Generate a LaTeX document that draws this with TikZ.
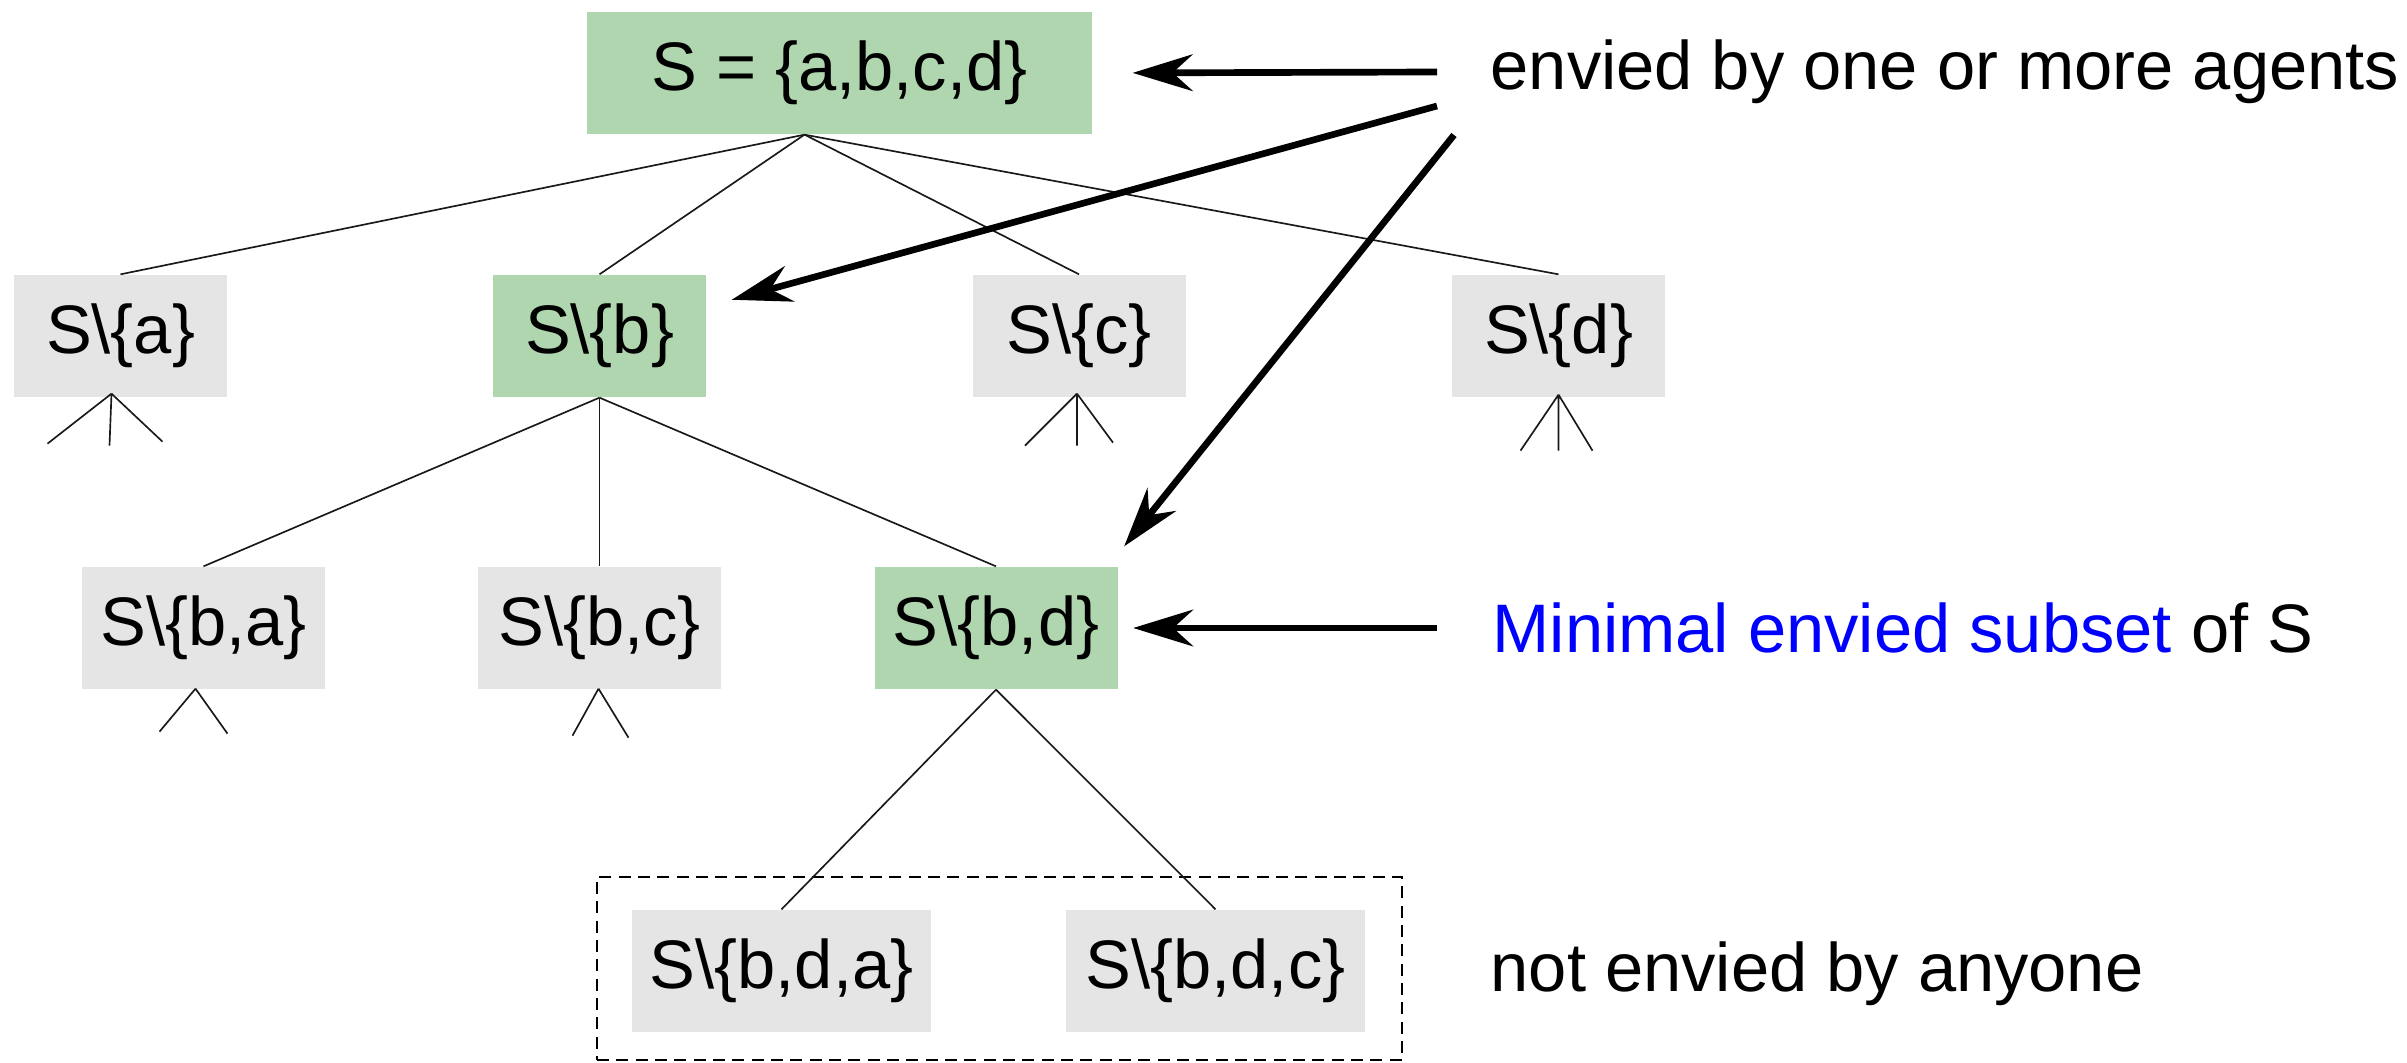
\documentclass[tikz,border=0pt]{standalone}
\usepackage{fontspec}
\setmainfont{Liberation Sans}
\usetikzlibrary{arrows.meta,calc}
\definecolor{envygreen}{HTML}{B0D6B0}
\definecolor{plaingray}{HTML}{E5E5E5}
\definecolor{minblue}{HTML}{0000FF}
\begin{document}
\begin{tikzpicture}[x=0.3pt,y=-0.3pt,
  setbox/.style={rectangle, inner sep=0pt, minimum height=36.6pt,
    font=\fontsize{20.6}{24}\selectfont},
  envied/.style={setbox, fill=envygreen},
  free/.style={setbox, fill=plaingray},
  branch/.style={line width=0.5pt, black!90},
  pointer/.style={line width=2pt, -{Stealth[length=18pt,width=11pt,inset=6pt]}},
  note/.style={inner sep=0pt, anchor=base west, font=\fontsize{20.6}{24}\selectfont},
  group/.style={draw, line width=0.6pt, dash pattern=on 3.6pt off 2.2pt, inner sep=0pt}]
\useasboundingbox (0,0) rectangle (2407,1063);

% the set and its subsets
\node[envied, minimum width=151.5pt] (root) at (839.5,73) {S = \{a,b,c,d\}};
\node[free,   minimum width=63.9pt] (sa) at (120.5,336) {S\textbackslash\{a\}};
\node[envied, minimum width=63.9pt] (sb) at (599.5,336) {S\textbackslash\{b\}};
\node[free,   minimum width=63.9pt] (sc) at (1079,336) {S\textbackslash\{c\}};
\node[free,   minimum width=63.9pt] (sd) at (1558.5,336) {S\textbackslash\{d\}};
\node[free,   minimum width=72.9pt] (sba) at (203.5,628) {S\textbackslash\{b,a\}};
\node[free,   minimum width=72.9pt] (sbc) at (599.5,628) {S\textbackslash\{b,c\}};
\node[envied, minimum width=72.9pt] (sbd) at (996,628) {S\textbackslash\{b,d\}};
\node[free,   minimum width=89.7pt] (sbda) at (781.5,971) {S\textbackslash\{b,d,a\}};
\node[free,   minimum width=89.7pt] (sbdc) at (1215.5,971) {S\textbackslash\{b,d,c\}};

% dashed group of subsets nobody envies
\node[group, minimum width=241.5pt, minimum height=54.9pt] (none) at (999.5,968.5) {};

% annotations
\node[note] (t-envied) at (1490,90) {envied by one or more agents};
\node[note] (t-minimal) at (1492,652) {\textcolor{minblue}{Minimal envied subset} of S};
\node[note] (t-none) at (1490,991) {not envied by anyone};

% tree edges
\coordinate (apex) at ($(root.south)+(-35,0)$);
\foreach \c in {sa,sb,sc,sd} \draw[branch] (apex) -- (\c.north);
\foreach \c in {sba,sbc,sbd} \draw[branch] (sb.south) -- (\c.north);
\foreach \c in {sbda,sbdc} \draw[branch] (sbd.south) -- (\c.north);

% unexpanded branches
\draw[branch] ($(sa.south)+(-9,-4)$) coordinate (sa-fork) -- +(-64,50)
  (sa-fork) -- +(-2,52) (sa-fork) -- +(51,48);
\draw[branch] ($(sc.south)+(-2,-4)$) coordinate (sc-fork) -- +(-52,52)
  (sc-fork) -- +(0,52) (sc-fork) -- +(36,49);
\draw[branch] ($(sd.south)+(0,-3)$) coordinate (sd-fork) -- +(-38,56)
  (sd-fork) -- +(0,56) (sd-fork) -- +(34,56);
\draw[branch] ($(sba.south)+(-8,-1)$) coordinate (sba-fork) -- +(-36,43)
  (sba-fork) -- +(32,45);
\draw[branch] ($(sbc.south)+(-1,-1)$) coordinate (sbc-fork) -- +(-26,47)
  (sbc-fork) -- +(30,49);

% pointers from the annotations
\coordinate (p1) at (1437,72);
\coordinate (p2) at (1437,106);
\coordinate (p3) at (1454,135);
\coordinate (p4) at (1437,628);
\draw[pointer, shorten >=12pt] (p1) -- (root.east);
\draw[pointer, shorten >=7.8pt] (p2) -- (sb);
\draw[pointer] (p3) -- ($(sbd.north east)+(6,-20)$);
\draw[pointer, shorten >=4.5pt] (p4) -- (sbd.east);
\end{tikzpicture}
\end{document}
